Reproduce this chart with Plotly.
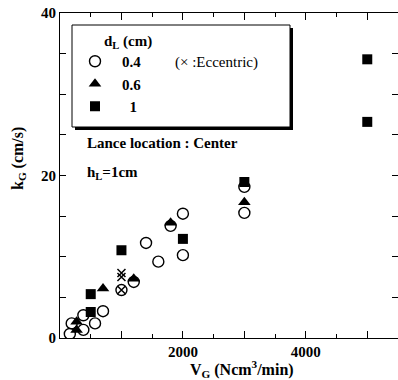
import plotly.graph_objects as go

# Gas-side mass transfer coefficient vs. gas flow rate, by lance diameter
vg_04 = [160, 190, 380, 380, 570, 700, 1200, 1400, 1600, 1800, 2000, 2000, 3000, 3000]
kg_04 = [0.5, 1.8, 1.0, 2.8, 1.8, 3.3, 6.9, 11.7, 9.4, 13.8, 15.3, 10.2, 18.6, 15.4]

vg_06 = [270, 270, 700, 1200, 1800, 3000]
kg_06 = [2.0, 1.0, 6.1, 7.3, 14.2, 16.7]

vg_10 = [500, 500, 1000, 2000, 3000, 5000, 5000]
kg_10 = [5.4, 3.2, 10.8, 12.2, 19.2, 34.3, 26.6]

# eccentric lance (circle with cross, and plain crosses)
vg_ecc_04 = [1000]
kg_ecc_04 = [5.9]
vg_ecc = [1000, 1000, 1000]
kg_ecc = [5.9, 8.0, 7.5]

x_ticks = [0, 1000, 2000, 3000, 4000, 5000]
x_labels = ["", "", "2000", "", "4000", ""]
y_ticks = [0, 5, 10, 15, 20, 25, 30, 35, 40]
y_labels = ["0", "", "", "", "20", "", "", "", "40"]

FONT = "Liberation Serif, Times New Roman, DejaVu Serif, serif"
W, H = 398, 380
ML, MR, MT, MB = 60, 0, 13, 42
PW, PH = W - ML - MR, H - MT - MB


def px(x):
    return (x - ML) / PW


def py(y):
    return (H - MB - y) / PH


fig = go.Figure()

fig.add_trace(go.Scatter(
    x=vg_04, y=kg_04, mode="markers", name="<b>0.4</b>",
    marker=dict(symbol="circle-open", size=11, color="black", line=dict(width=1.4)),
))
fig.add_trace(go.Scatter(
    x=vg_ecc_04, y=kg_ecc_04, mode="markers", showlegend=False,
    marker=dict(symbol="circle-open", size=11, color="black", line=dict(width=1.4)),
))
fig.add_trace(go.Scatter(
    x=vg_06, y=kg_06, mode="markers", name="<b>0.6</b>",
    marker=dict(symbol="triangle-up", size=11, color="black"),
))
fig.add_trace(go.Scatter(
    x=vg_10, y=kg_10, mode="markers", name="<b>\u00a0\u00a01</b>",
    marker=dict(symbol="square", size=10, color="black"),
))
fig.add_trace(go.Scatter(
    x=vg_ecc, y=kg_ecc, mode="markers", showlegend=False,
    marker=dict(symbol="x-thin-open", size=8, color="black", line=dict(width=1.5, color="black")),
))

# legend frame with drop shadow
bx0, by0, bx1, by1 = 72, 25, 290, 127
fig.add_shape(type="rect", xref="paper", yref="paper", layer="below",
              x0=px(bx0 + 3), x1=px(bx1 + 3), y0=py(by1 + 3), y1=py(by0 + 3),
              fillcolor="black", line=dict(width=0))
fig.add_shape(type="rect", xref="paper", yref="paper", layer="below",
              x0=px(bx0), x1=px(bx1), y0=py(by1), y1=py(by0),
              fillcolor="white", line=dict(width=1, color="black"))

annotations = [
    dict(text="<b>d<sub>L</sub> (cm)</b>", x=px(102), y=py(42), xanchor="left", yanchor="middle"),
    dict(text="(\u00d7 :Eccentric)", x=px(173), y=py(62), xanchor="left", yanchor="middle"),
    dict(text="<b>Lance location : Center</b>", x=px(85), y=py(143), xanchor="left", yanchor="middle"),
    dict(text="<b>h<sub>L</sub>=1cm</b>", x=px(85), y=py(173), xanchor="left", yanchor="middle"),
    dict(text="<b>V<sub>G</sub> (Ncm<sup>3</sup>/min)</b>", x=px(242), y=py(369),
         xanchor="center", yanchor="middle", font=dict(size=16)),
    dict(text="<b>k<sub>G</sub> (cm/s)</b>", x=px(18), y=py(159), textangle=-90,
         xanchor="center", yanchor="middle", font=dict(size=16)),
]
for a in annotations:
    a.setdefault("font", dict(size=15))
    a["font"] = dict(family=FONT, color="black", **a["font"])
    fig.add_annotation(xref="paper", yref="paper", showarrow=False, **a)

axis_common = dict(
    showline=True, linecolor="black", linewidth=1, mirror="ticks",
    ticks="inside", tickcolor="black", tickwidth=1,
    showgrid=False, zeroline=False,
    tickfont=dict(family=FONT, size=15, color="black", weight="bold"),
)

fig.update_xaxes(range=[0, 5500], tickvals=x_ticks, ticktext=x_labels, ticklen=7,
                 minor=dict(dtick=500, ticklen=4, ticks="inside", tickcolor="black"),
                 **axis_common)
fig.update_yaxes(range=[0, 40], tickvals=y_ticks, ticktext=y_labels, ticklen=6,
                 **axis_common)

fig.update_layout(
    width=W, height=H,
    margin=dict(l=ML, r=MR, t=MT, b=MB),
    paper_bgcolor="white", plot_bgcolor="white",
    font=dict(family=FONT, size=15, color="black"),
    showlegend=True,
    legend=dict(
        x=px(68), y=py(45), xanchor="left", yanchor="top",
        bgcolor="rgba(0,0,0,0)", borderwidth=0,
        font=dict(family=FONT, size=15, color="black"),
        itemwidth=44, tracegroupgap=0,
    ),
)

fig.write_html("out.html")
